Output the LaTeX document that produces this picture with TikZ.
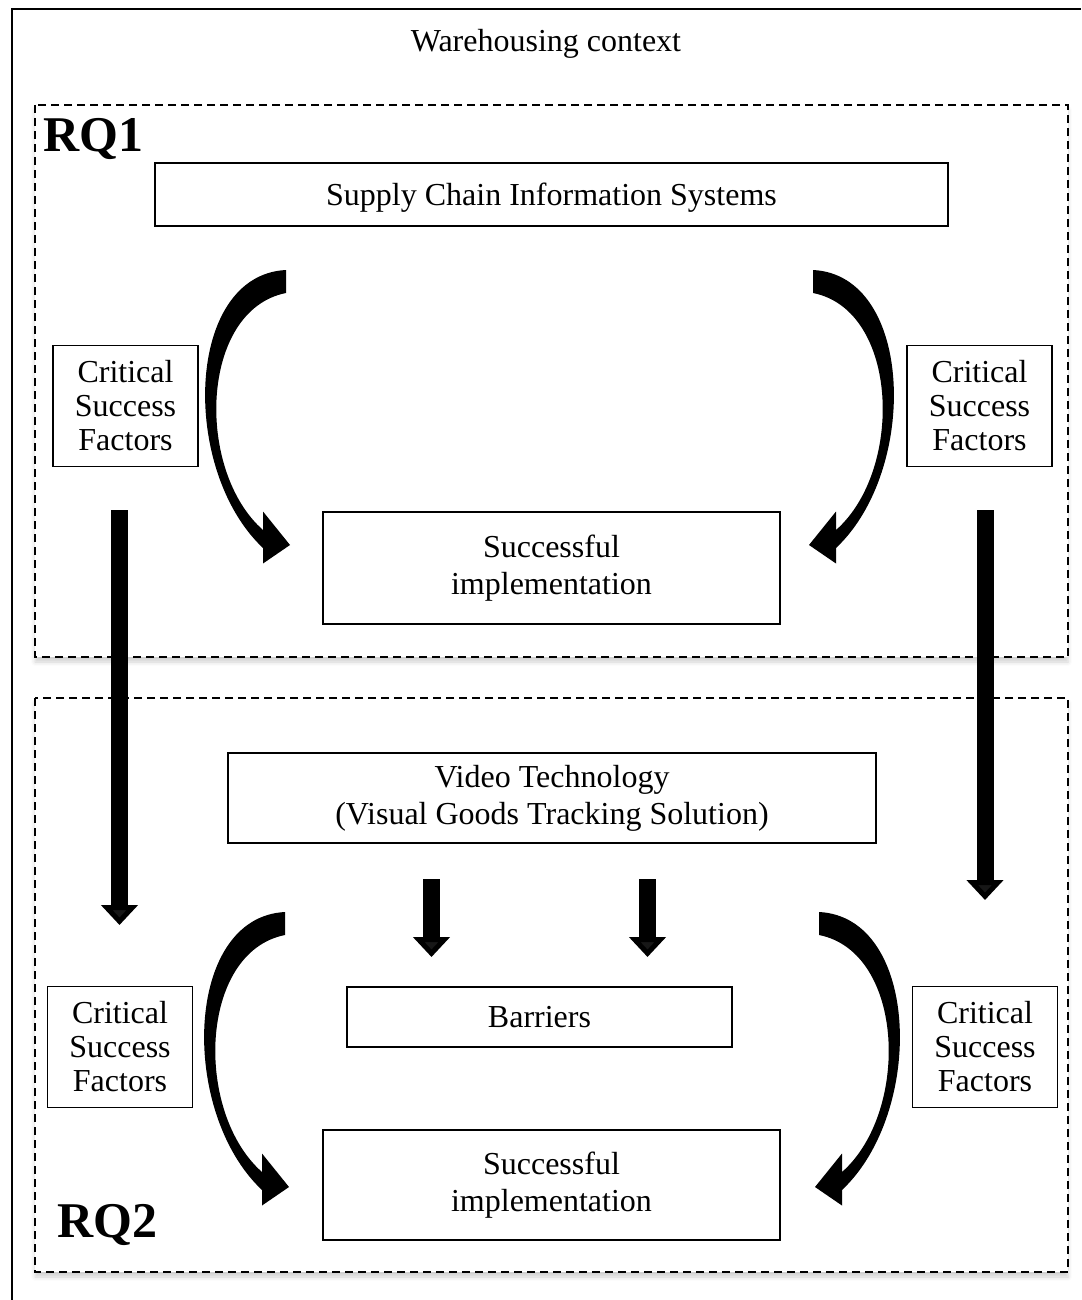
\documentclass[tikz,border=0pt]{standalone}
\usepackage{fontspec}
\setmainfont{Liberation Serif}
\usetikzlibrary{arrows.meta, shadows.blur}
\tikzstyle{infobox} = [rectangle, draw=black, line width=0.75pt, text centered, align=center, inner sep=0pt, font=\fontsize{16}{18.5}\selectfont]
\tikzstyle{oneline} = [text depth=0pt]
\tikzstyle{csfbox} = [infobox, minimum width=72.5pt, minimum height=60.5pt, font=\fontsize{16}{17}\selectfont]
\tikzstyle{implbox} = [infobox, minimum width=228.5pt, minimum height=56pt]
\tikzstyle{rqframe} = [draw=black, line width=0.7pt, dash pattern=on 4pt off 2.5pt, fill=white, blur shadow={shadow xshift=0pt, shadow yshift=-2.5pt, shadow opacity=18, shadow blur radius=2pt}]
\tikzstyle{rqlabel} = [inner sep=0pt, anchor=base west, font=\fontsize{25}{25}\selectfont\bfseries]
\tikzstyle{blockarrow} = [line width=8.5pt, -{Triangle[width=18pt, length=10pt]}]
\tikzset{bentarrow/.pic={
  \fill (0,-11.5) .. controls (-101,-6.5) and (-106,188.5) .. (-23,266.5) -- (-23,282) -- (4,263.5) -- (-23,230) -- (-23,248.5) .. controls (-91,188.5) and (-86,28.5) .. (0,11.5) -- cycle;
}}

\begin{document}
\begin{tikzpicture}[x=0.5pt, y=-0.5pt]
  \useasboundingbox (0,0) rectangle (1081,1300);
  \draw [line width=0.8pt] (12,1300) -- (12,9) -- (1081,9);
  \node (context) [oneline, inner sep=0pt, font=\fontsize{16}{18.5}\selectfont] at (546,40) {Warehousing context};
  % research question areas
  \draw [rqframe] (35,105) rectangle (1068,657);
  \draw [rqframe] (35,698) rectangle (1068,1272);
  \node (rqone) [rqlabel] at (43,152) {RQ1};
  \node (rqtwo) [rqlabel] at (57,1237) {RQ2};
  % RQ1
  \node (scis) [infobox, oneline, minimum width=396.5pt, minimum height=31.5pt] at (551.5,194.5) {Supply Chain Information Systems};
  \node (csftl) [csfbox] at (125.5,406) {Critical\\Success\\Factors};
  \node (csftr) [csfbox] at (979.5,406) {Critical\\Success\\Factors};
  \node (impltop) [implbox] at (551.5,568) {Successful\\implementation};
  % RQ2
  \node (video) [infobox, minimum width=324pt, minimum height=45pt] at (552,798) {Video Technology\\(Visual Goods Tracking Solution)};
  \node (barriers) [infobox, oneline, minimum width=192.5pt, minimum height=30pt] at (539.5,1017) {Barriers};
  \node (csfbl) [csfbox] at (120,1047) {Critical\\Success\\Factors};
  \node (csfbr) [csfbox] at (985,1047) {Critical\\Success\\Factors};
  \node (implbot) [implbox, minimum height=55pt] at (551.5,1185) {Successful\\implementation};
  % bent arrows
  \pic at (286,281.5) {bentarrow};
  \pic [xscale=-1] at (813,281.5) {bentarrow};
  \pic at (285,923.5) {bentarrow};
  \pic [xscale=-1] at (819,923.5) {bentarrow};
  % straight arrows
  \coordinate (ltop) at (119.5,510);
  \coordinate (lbot) at (119.5,925);
  \coordinate (rtop) at (985,510);
  \coordinate (rbot) at (985,900);
  \coordinate (bartop) at (431.5,879);
  \coordinate (barbot) at (431.5,957);
  \coordinate (bbrtop) at (647.5,879);
  \coordinate (bbrbot) at (647.5,957);
  \draw [blockarrow] (ltop) -- (lbot);
  \draw [blockarrow] (rtop) -- (rbot);
  \draw [blockarrow] (bartop) -- (barbot);
  \draw [blockarrow] (bbrtop) -- (bbrbot);
\end{tikzpicture}
\end{document}
